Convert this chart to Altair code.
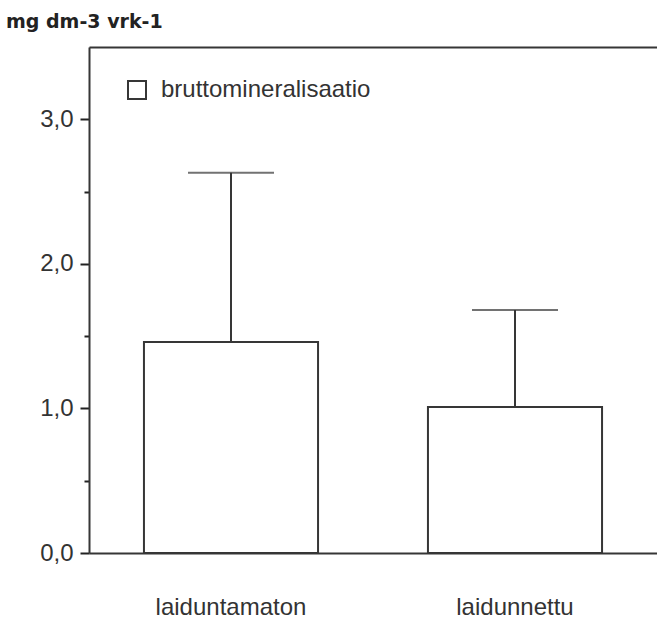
import altair as alt
import pandas as pd

# Mean gross mineralisation per grazing treatment, with upper error bar ends
groups = ["laiduntamaton", "laidunnettu"]
means = [1.46, 1.01]
upper = [2.63, 1.68]
series = ["bruttomineralisaatio", "bruttomineralisaatio"]

df = pd.DataFrame({"group": groups, "mean": means, "upper": upper, "series": series})

ink = "#363636"
text_col = "#333333"
font = "Liberation Sans"

x_scale = alt.Scale(paddingInner=0.387, paddingOuter=0.1935)
y_scale = alt.Scale(domain=[0, 3.5], nice=False, zero=True)

# Whole units get long labelled ticks, half units short unlabelled ones
y_axis = alt.Axis(
    title=None,
    values=[0, 0.5, 1, 1.5, 2, 2.5, 3],
    labelExpr="datum.value % 1 === 0 ? replace(format(datum.value, '.1f'), '.', ',') : ''",
    tickSize={"condition": {"test": "datum.value % 1 === 0", "value": 9}, "value": 5},
    tickColor="#222222",
    tickWidth=2,
    domainColor=ink,
    domainWidth=2,
    labelFont=font,
    labelFontSize=24,
    labelColor=text_col,
    labelPadding=7,
    grid=False,
    minExtent=84,
    maxExtent=84,
)

x_axis_bottom = alt.Axis(
    title=None,
    orient="bottom",
    labelAngle=0,
    ticks=False,
    labelFont=font,
    labelFontSize=24,
    labelColor=text_col,
    labelPadding=42,
    domainColor=ink,
    domainWidth=2,
    grid=False,
    maxExtent=56,
)

x_axis_top = alt.Axis(
    title=None,
    orient="top",
    labels=False,
    ticks=False,
    domainColor=ink,
    domainWidth=2,
    grid=False,
)

bars = alt.Chart(df).mark_bar(stroke=ink, strokeWidth=2).encode(
    x=alt.X("group:N", sort=groups, scale=x_scale, axis=x_axis_bottom),
    y=alt.Y("mean:Q", scale=y_scale, axis=y_axis),
    fill=alt.Fill(
        "series:N",
        scale=alt.Scale(range=["white"]),
        legend=alt.Legend(
            title=None,
            orient="none",
            legendX=36,
            legendY=31,
            symbolType="square",
            symbolSize=324,
            symbolStrokeColor=ink,
            symbolStrokeWidth=2,
            symbolFillColor="white",
            labelFont=font,
            labelFontSize=24,
            labelColor=text_col,
            labelOffset=12,
            labelLimit=0,
            padding=0,
        ),
    ),
)

stems = alt.Chart(df).mark_rule(color=ink, strokeWidth=2).encode(
    x=alt.X("group:N", sort=groups, scale=x_scale, axis=None),
    y=alt.Y("mean:Q", scale=y_scale),
    y2="upper:Q",
)

caps = alt.Chart(df).mark_tick(color=ink, thickness=2, size=86, orient="horizontal").encode(
    x=alt.X("group:N", sort=groups, scale=x_scale, axis=x_axis_top),
    y=alt.Y("upper:Q", scale=y_scale),
)

chart = (
    alt.layer(bars, stems, caps)
    .resolve_axis(x="independent")
    .properties(
        width=568,
        height=506,
        padding={"left": 5, "top": 13, "right": 0, "bottom": 0},
        title=alt.TitleParams(
            "mg dm-3 vrk-1",
            anchor="start",
            frame="bounds",
            dx=1,
            dy=-1,
            font="DejaVu Sans",
            fontSize=19,
            fontWeight="bold",
            color="#222222",
            offset=14,
        ),
    )
    .configure_view(stroke=None)
    .configure(background="white")
)

chart.save("out.html", embed_options={"renderer": "svg", "actions": False})
